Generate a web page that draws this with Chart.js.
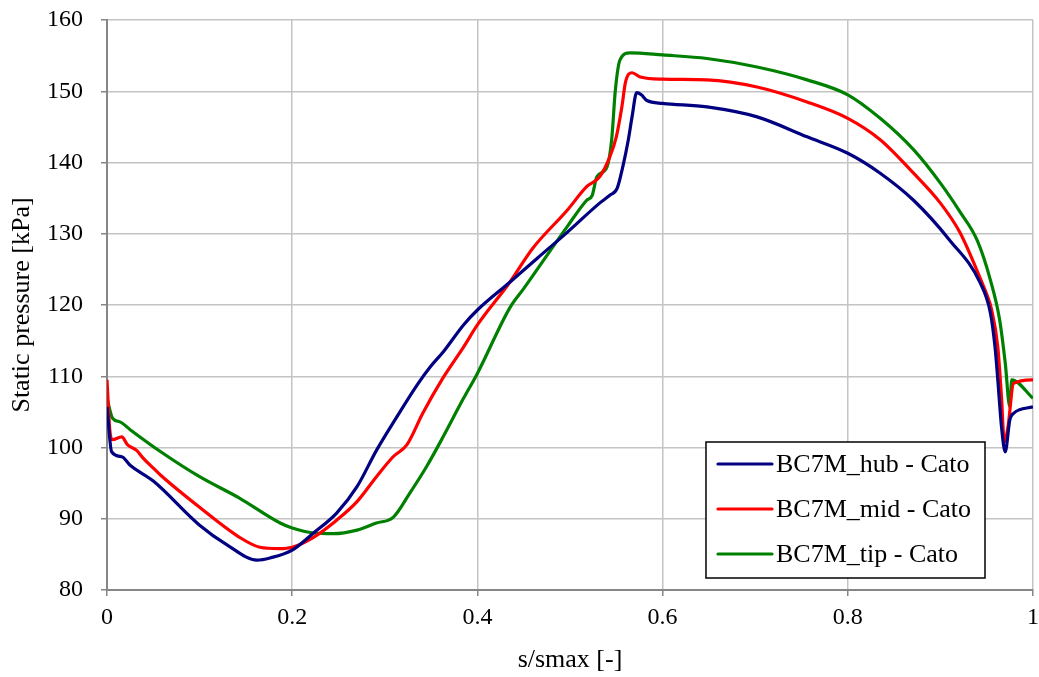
<!DOCTYPE html>
<html>
<head>
<meta charset="utf-8">
<script src="https://cdn.jsdelivr.net/npm/chart.js@4"></script>
<style>
  body { margin: 0; background: #fff; }
  #wrap { width: 1039px; height: 677px; position: relative; }
</style>
</head>
<body>
<div id="wrap"><canvas id="myChart"></canvas></div>
<script>
// values (s/smax, static pressure in kPa)
let hubX = [0, 0.005, 0.016, 0.025, 0.05, 0.1, 0.13, 0.162, 0.176, 0.2, 0.223, 0.248, 0.27, 0.291, 0.313, 0.335, 0.349, 0.363, 0.385, 0.4, 0.435, 0.465, 0.497, 0.532, 0.543, 0.551, 0.557, 0.563, 0.567, 0.572, 0.577, 0.583, 0.6, 0.648, 0.702, 0.756, 0.8, 0.835, 0.871, 0.91, 0.943, 0.954, 0.959, 0.962, 0.966, 0.97, 0.975, 0.979, 1.0];
let hubY = [105.7, 99.4, 98.7, 97.5, 95.3, 89.1, 86.3, 84.2, 84.5, 85.6, 88.0, 90.8, 94.5, 99.6, 104.3, 108.8, 111.3, 113.4, 117.2, 119.3, 123.2, 126.6, 130.2, 134.3, 135.4, 136.4, 139.4, 143.2, 146.4, 149.8, 149.5, 148.7, 148.3, 147.8, 146.4, 143.6, 141.3, 138.5, 134.7, 129.1, 123.1, 118.9, 114.1, 109.5, 102.9, 99.4, 103.9, 104.8, 105.7];

let midX = [0, 0.003, 0.006, 0.016, 0.022, 0.032, 0.039, 0.05, 0.058, 0.1, 0.143, 0.165, 0.186, 0.2, 0.223, 0.248, 0.27, 0.291, 0.309, 0.324, 0.341, 0.363, 0.385, 0.4, 0.435, 0.46, 0.497, 0.518, 0.532, 0.543, 0.55, 0.556, 0.56, 0.567, 0.576, 0.6, 0.648, 0.702, 0.756, 0.8, 0.835, 0.871, 0.9, 0.921, 0.946, 0.95, 0.955, 0.962, 0.966, 0.969, 0.973, 0.979, 1.0];
let midY = [109.5, 102.5, 101.1, 101.5, 100.4, 99.6, 98.5, 97.1, 96.1, 91.6, 87.4, 86.0, 85.8, 86.0, 87.4, 89.8, 92.4, 95.9, 98.7, 100.4, 104.8, 109.8, 114.1, 117.2, 123.2, 128.0, 133.3, 136.6, 138.0, 140.8, 143.6, 147.8, 151.3, 152.6, 152.0, 151.7, 151.6, 150.6, 148.5, 146.2, 143.2, 138.5, 134.3, 130.2, 122.8, 121.5, 119.5, 114.1, 107.0, 100.8, 102.9, 109.0, 109.5];

let tipX = [0, 0.006, 0.014, 0.025, 0.058, 0.1, 0.143, 0.187, 0.2, 0.223, 0.244, 0.27, 0.291, 0.309, 0.327, 0.345, 0.363, 0.385, 0.4, 0.435, 0.45, 0.497, 0.518, 0.524, 0.529, 0.54, 0.545, 0.549, 0.554, 0.565, 0.6, 0.648, 0.702, 0.756, 0.8, 0.835, 0.871, 0.9, 0.921, 0.94, 0.954, 0.964, 0.97, 0.975, 0.977, 1.0];
let tipY = [106.9, 104.1, 103.6, 102.5, 99.4, 95.9, 92.9, 89.4, 88.7, 88.0, 87.9, 88.4, 89.4, 90.2, 93.6, 97.3, 101.5, 106.9, 110.4, 119.6, 122.3, 131.0, 134.7, 135.4, 138.0, 139.4, 143.2, 150.2, 154.4, 155.4, 155.1, 154.6, 153.4, 151.6, 149.5, 146.2, 141.8, 137.1, 133.1, 129.0, 123.5, 117.9, 111.9, 105.7, 109.5, 106.9];

let seriesNames = ['BC7M_hub - Cato', 'BC7M_mid - Cato', 'BC7M_tip - Cato'];
let seriesColors = ['#000080', '#ff0000', '#008000'];

// pair x and y lists into points
function toPoints(xs, ys) {
  let pts = [];
  for (let i = 0; i < xs.length; i++) {
    pts.push({ x: xs[i], y: ys[i] });
  }
  return pts;
}

let allData = [toPoints(hubX, hubY), toPoints(midX, midY), toPoints(tipX, tipY)];

let datasets = [];
for (let i = 0; i < seriesNames.length; i++) {
  datasets.push({
    label: seriesNames[i],
    data: allData[i],
    borderColor: seriesColors[i],
    borderWidth: 3.2,
    pointRadius: 0,
    pointHoverRadius: 0,
    fill: false,
    cubicInterpolationMode: 'monotone'
  });
}

const serif = "'Liberation Serif', 'Times New Roman', serif";
Chart.defaults.font.family = serif;
Chart.defaults.color = '#000';

// legend box inside the plot, bottom right, like the excel one
const boxLegend = {
  id: 'boxLegend',
  afterDraw(chart) {
    const ctx = chart.ctx;
    const area = chart.chartArea;
    const sets = chart.data.datasets;
    ctx.save();
    ctx.font = '26px ' + serif;
    let textW = 0;
    sets.forEach(function(ds) { textW = Math.max(textW, ctx.measureText(ds.label).width); });
    const rowH = 45;
    const w = 12 + 54 + 4 + textW + 14;
    const h = rowH * sets.length + 1;
    const right = area.right - 48;
    const bottom = area.bottom - 12;
    const left = right - w;
    const top = bottom - h;
    ctx.fillStyle = '#fff';
    ctx.fillRect(left, top, w, h);
    ctx.strokeStyle = '#000';
    ctx.lineWidth = 1.5;
    ctx.strokeRect(left, top, w, h);
    sets.forEach(function(ds, i) {
      const y = top + 22 + i * rowH;
      ctx.strokeStyle = ds.borderColor;
      ctx.lineWidth = 3.2;
      ctx.lineCap = 'round';
      ctx.beginPath();
      ctx.moveTo(left + 12, y);
      ctx.lineTo(left + 66, y);
      ctx.stroke();
      ctx.fillStyle = '#000';
      ctx.textBaseline = 'middle';
      ctx.textAlign = 'left';
      ctx.fillText(ds.label, left + 70, y + 1);
    });
    ctx.restore();
  }
};

// excel style numbers: 0, 0.2 ... 1
function plainNum(v) {
  return String(Number(v.toFixed(1)));
}

let options = {
  type: 'line',
  data: { datasets: datasets },
  options: {
    responsive: true,
    maintainAspectRatio: false,
    animation: false,
    layout: { padding: { top: 20, right: 6, left: 0, bottom: 0 } },
    plugins: {
      legend: { display: false },
      tooltip: { enabled: false }
    },
    scales: {
      x: {
        type: 'linear',
        min: 0,
        max: 1,
        ticks: {
          stepSize: 0.2,
          padding: 7,
          font: { size: 24 },
          color: '#000',
          maxRotation: 0,
          callback: plainNum
        },
        grid: { color: '#c4c4c4', lineWidth: 1.5, tickLength: 6, tickColor: '#868686', tickWidth: 1.5 },
        border: { color: '#868686', width: 2 },
        title: { display: true, text: 's/smax [-]', font: { size: 26 }, color: '#000', padding: { top: 0, bottom: 1.5 } },
        afterFit: function(scale) {
          scale.height = 87;
          scale.paddingLeft = 0;
          scale.paddingRight = 6;
        }
      },
      y: {
        min: 80,
        max: 160,
        ticks: {
          stepSize: 10,
          padding: 18,
          font: { size: 24 },
          color: '#000'
        },
        grid: { color: '#c4c4c4', lineWidth: 1.5, tickLength: 6, tickColor: '#868686', tickWidth: 1.5 },
        border: { color: '#868686', width: 2 },
        title: { display: true, text: 'Static pressure [kPa]', font: { size: 26 }, color: '#000', padding: { top: 6.5, bottom: 0 } },
        afterFit: function(scale) {
          scale.width = 107;
          scale.paddingTop = 14;
          scale.paddingBottom = 14;
        }
      }
    }
  },
  plugins: [boxLegend]
};

const myChart = new Chart(document.getElementById('myChart'), options);
</script>
</body>
</html>
